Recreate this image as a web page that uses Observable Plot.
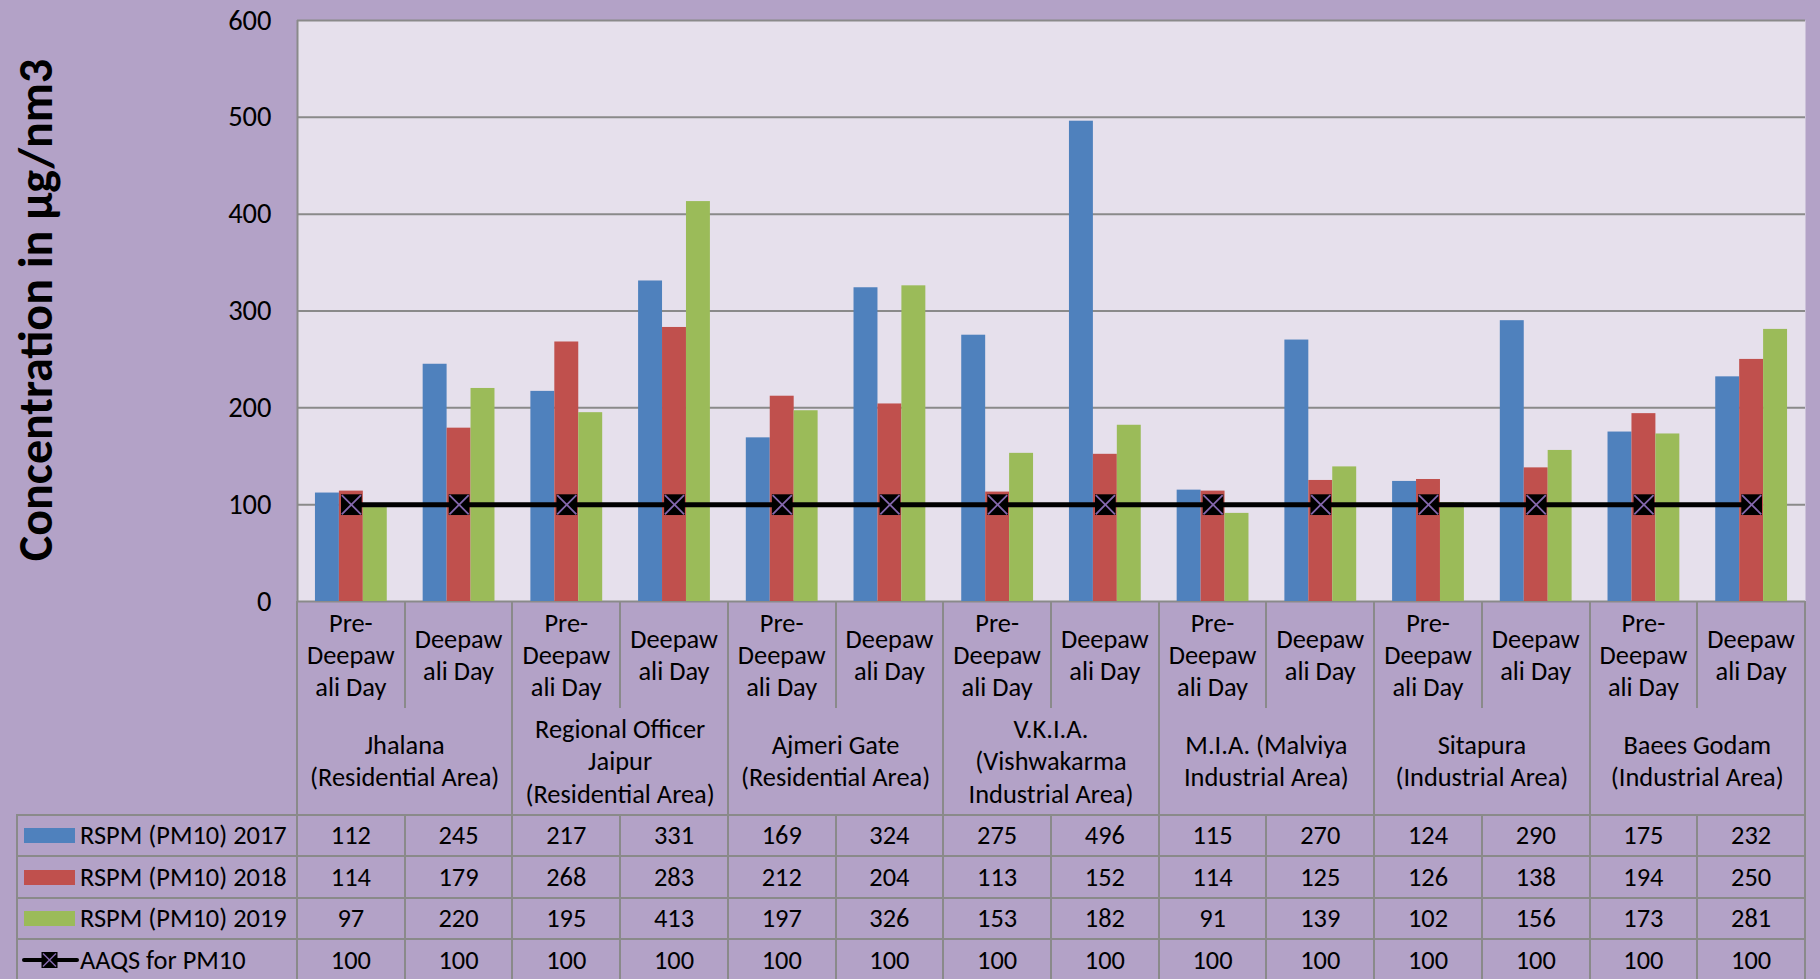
<!DOCTYPE html>
<html><head><meta charset="utf-8">
<script src="https://cdn.jsdelivr.net/npm/d3@7"></script>
<script src="https://cdn.jsdelivr.net/npm/@observablehq/plot@0.6"></script>
<style>
html,body{margin:0;padding:0;background:#B3A2C7;overflow:hidden}
#wrap{position:relative;width:1820px;height:979px;font-family:Carlito,Calibri,Lato,sans-serif;color:#000;overflow:hidden}
#chart{position:absolute;left:0;top:0}
.cell{position:absolute;display:flex;align-items:center;justify-content:center;text-align:center;white-space:pre-line;font-size:26.4px;line-height:32px;box-sizing:border-box}
.ln{position:absolute;background:#8a8a8a}
#ytitle{position:absolute;left:35px;top:310px;transform:translate(-50%,-50%) rotate(-90deg);white-space:nowrap;font-weight:bold;font-size:48px}
</style></head><body>
<div id="wrap"><div id="chart"></div><div id="ytitle">Concentration in µg/nm3</div></div>
<script>
// ---- data ----
const groups = ["Jhalana\n(Residential Area)", "Regional Officer\nJaipur\n(Residential Area)", "Ajmeri Gate\n(Residential Area)", "V.K.I.A.\n(Vishwakarma\nIndustrial Area)", "M.I.A. (Malviya\nIndustrial Area)", "Sitapura\n(Industrial Area)", "Baees Godam\n(Industrial Area)"];
const days = ["Pre-\nDeepaw\nali Day", "Deepaw\nali Day"];
const series = ["RSPM (PM10) 2017", "RSPM (PM10) 2018", "RSPM (PM10) 2019"];
const colors = ["#4F81BD", "#C0504D", "#9BBB59"];
const pm2017 = [112, 245, 217, 331, 169, 324, 275, 496, 115, 270, 124, 290, 175, 232];
const pm2018 = [114, 179, 268, 283, 212, 204, 113, 152, 114, 125, 126, 138, 194, 250];
const pm2019 = [97, 220, 195, 413, 197, 326, 153, 182, 91, 139, 102, 156, 173, 281];
const standardName = "AAQS for PM10";
const aaqs = [100, 100, 100, 100, 100, 100, 100, 100, 100, 100, 100, 100, 100, 100];
const yTicks = [0, 100, 200, 300, 400, 500, 600];

// ---- build tables ----
const seriesValues = [pm2017, pm2018, pm2019];
const bars = [];
seriesValues.forEach((vals, si) => vals.forEach((v, i) => bars.push({col: i, s: si, name: series[si], value: v})));
const std = aaqs.map((v, i) => ({col: i, value: v}));
const nCols = pm2017.length;
const bw = 1 / 4.5, gap = 0.75 / 4.5;

const chart = Plot.plot({
  width: 1820, height: 603,
  marginLeft: 297, marginRight: 15, marginTop: 20, marginBottom: 2,
  style: {background: "transparent", fontFamily: "Carlito, Calibri, Lato, sans-serif", fontSize: "28.5px", color: "#000", overflow: "visible"},
  x: {domain: [0, nCols], axis: null},
  y: {domain: [0, 600], axis: null},
  color: {domain: series, range: colors},
  marks: [
    Plot.frame({fill: "#E6E0EC", stroke: null}),
    Plot.gridY(yTicks, {stroke: "#8a8a8a", strokeOpacity: 1, strokeWidth: 2}),
    Plot.ruleX([0], {stroke: "#8a8a8a", strokeWidth: 2}),
    Plot.rect(bars, {x1: d => d.col + gap + d.s * bw, x2: d => d.col + gap + (d.s + 1) * bw, y1: 0, y2: "value", fill: "name"}),
    Plot.line(std, {x: d => d.col + 0.5, y: "value", stroke: "#000", strokeWidth: 5}),
    Plot.dot(std, {x: d => d.col + 0.5, y: "value", symbol: "square", fill: "#000", r: 11.7}),
    Plot.dot(std, {x: d => d.col + 0.5, y: "value", symbol: "times", stroke: "#8467AD", strokeWidth: 1.8, r: 8.8}),
    Plot.axisY(yTicks, {label: null, tickSize: 0, tickPadding: 26, fontSize: 28.5, fill: "#000"})
  ]
});
document.getElementById("chart").appendChild(chart);

// ---- table below the chart ----
const xs = chart.scale("x");
const X = v => xs.apply(v);
const wrap = document.getElementById("wrap");
function cell(x0, x1, y0, y1, text, extra) {
  const d = document.createElement("div");
  d.className = "cell";
  Object.assign(d.style, {left: x0 + "px", top: y0 + "px", width: (x1 - x0) + "px", height: (y1 - y0) + "px"}, extra || {});
  d.textContent = text;
  wrap.appendChild(d);
  return d;
}
function vline(x, y0, y1) {
  const d = document.createElement("div"); d.className = "ln";
  Object.assign(d.style, {left: (x - 1) + "px", top: y0 + "px", width: "2px", height: (y1 - y0) + "px"});
  wrap.appendChild(d);
}
function hline(y, x0, x1) {
  const d = document.createElement("div"); d.className = "ln";
  Object.assign(d.style, {left: x0 + "px", top: (y - 1) + "px", width: (x1 - x0) + "px", height: "2px"});
  wrap.appendChild(d);
}
const yAxis0 = 601, ySub = 708, yGroup = 814.5, rowH = 41.5, tableLeft = 16;
const rowsY = d3.range(5).map(k => yGroup + k * rowH);

// sub labels
for (let i = 0; i < nCols; i++) cell(X(i), X(i + 1), yAxis0, ySub, days[i % 2]);
// group labels
groups.forEach((g, k) => cell(X(2 * k), X(2 * k + 2), ySub, yGroup, g, {lineHeight: "32.5px"}));
// data rows
const allRows = [...seriesValues, aaqs];
allRows.forEach((vals, r) => vals.forEach((v, i) => cell(X(i), X(i + 1), rowsY[r], rowsY[r + 1], String(v))));
// legend column
const legendNames = [...series, standardName];
legendNames.forEach((name, r) => {
  const c = cell(tableLeft, X(0), rowsY[r], rowsY[r + 1], "", {justifyContent: "flex-start"});
  const svgNS = "http://www.w3.org/2000/svg";
  const svg = document.createElementNS(svgNS, "svg");
  svg.setAttribute("width", 58); svg.setAttribute("height", 20);
  svg.style.marginLeft = "6px";
  if (r < 3) {
    const rc = document.createElementNS(svgNS, "rect");
    rc.setAttribute("x", 2); rc.setAttribute("y", 3); rc.setAttribute("width", 51); rc.setAttribute("height", 15);
    rc.setAttribute("fill", colors[r]);
    svg.appendChild(rc);
  } else {
    const l = document.createElementNS(svgNS, "line");
    l.setAttribute("x1", 2); l.setAttribute("x2", 55); l.setAttribute("y1", 10); l.setAttribute("y2", 10);
    l.setAttribute("stroke", "#000"); l.setAttribute("stroke-width", 4); l.setAttribute("stroke-linecap", "round");
    svg.appendChild(l);
    const sq = document.createElementNS(svgNS, "rect");
    sq.setAttribute("x", 19.5); sq.setAttribute("y", 2); sq.setAttribute("width", 16); sq.setAttribute("height", 16);
    sq.setAttribute("fill", "#000"); svg.appendChild(sq);
    const p = document.createElementNS(svgNS, "path");
    p.setAttribute("d", "M21,3.5L34,16.5M34,3.5L21,16.5");
    p.setAttribute("stroke", "#8467AD"); p.setAttribute("stroke-width", 1.5);
    svg.appendChild(p);
  }
  c.appendChild(svg);
  const t = document.createElement("span");
  t.textContent = name; t.style.whiteSpace = "nowrap";
  c.appendChild(t);
});

// grid lines of the table
vline(X(0), yAxis0, 981);
vline(X(nCols), yAxis0, 981);
for (let i = 1; i < nCols; i++) {
  if (i % 2 === 0) vline(X(i), yAxis0, 981);
  else { vline(X(i), yAxis0, ySub); vline(X(i), yGroup, 981); }
}
vline(tableLeft + 1, yGroup, 981);
rowsY.forEach(y => hline(y, tableLeft, X(nCols) + 1));
</script>
</body></html>
